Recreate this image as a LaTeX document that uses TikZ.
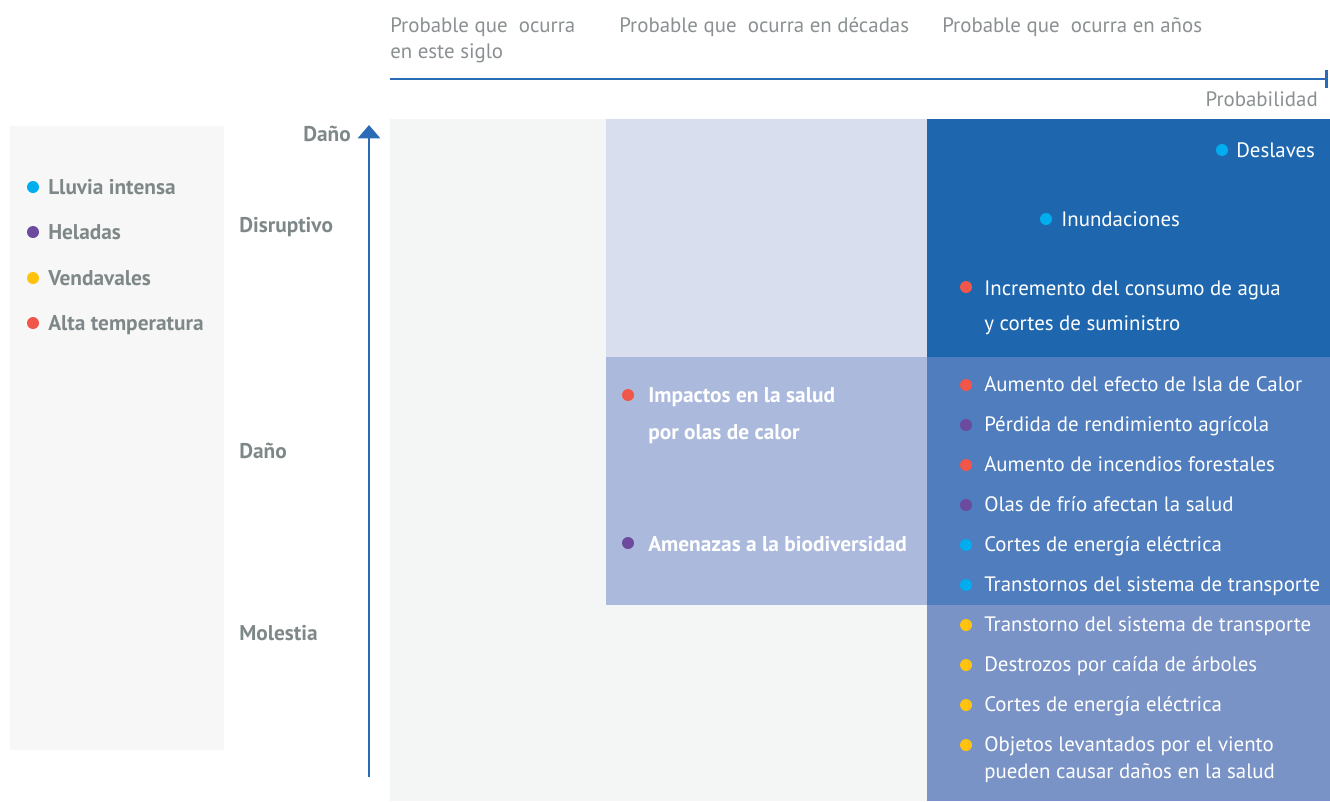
\documentclass[tikz,border=0pt]{standalone}
\usepackage{fontspec}
\setmainfont{PT Sans}
\usetikzlibrary{arrows.meta}
\definecolor{axisblue}{HTML}{2A6BB5}
\definecolor{txtgray}{HTML}{8A9091}
\definecolor{lblgray}{HTML}{7F8888}
\definecolor{legbg}{HTML}{F7F7F7}
\definecolor{gridbg}{HTML}{F4F5F5}
\definecolor{lav}{HTML}{D9DEEF}
\definecolor{lavmid}{HTML}{ABBADC}
\definecolor{darkb}{HTML}{1E67AF}
\definecolor{midb}{HTML}{4F7DBD}
\definecolor{lightb}{HTML}{7A93C6}
\definecolor{cyanc}{HTML}{00AEEF}
\definecolor{purplec}{HTML}{6C4A9E}
\definecolor{yellowc}{HTML}{FFC20E}
\definecolor{redc}{HTML}{F0564A}
\tikzset{
  txtbase/.style={anchor=mid west, inner sep=0pt, yshift=-3pt},
  head/.style={txtbase, text=txtgray, font=\fontsize{15.65}{20}\selectfont},
  lvl/.style={txtbase, text=lblgray, font=\fontsize{16}{20}\selectfont\bfseries},
  item/.style={txtbase, text=white, font=\fontsize{15.65}{20}\selectfont},
  bitem/.style={txtbase, text=white, font=\fontsize{16}{20}\selectfont\bfseries},
  dot/.style={circle, inner sep=0pt, minimum size=9pt, fill=#1},
}
\begin{document}
\begin{tikzpicture}[x=0.75pt,y=-0.75pt]
\useasboundingbox (0,0) rectangle (1330,801);
% backgrounds
\fill[legbg] (10,126) rectangle (224,750);
\fill[gridbg] (390,119) rectangle (1330,801);
\fill[lav] (606,119) rectangle (927,357);
\fill[lavmid] (606,357) rectangle (927,605);
\fill[darkb] (927,119) rectangle (1330,357);
\fill[midb] (927,357) rectangle (1330,605);
\fill[lightb] (927,605) rectangle (1330,801);
% axes
\coordinate (hx0) at (390,79);
\coordinate (hx1) at (1328,79);
\draw[axisblue, line width=2.2pt, -{Bar[width=13.5pt]}] (hx0) -- (hx1);
\coordinate (vy0) at (369,777);
\coordinate (vy1) at (369,125);
\draw[axisblue, line width=2.2pt, -{Triangle[width=16.5pt,length=10pt]}] (vy0) -- (vy1);
% top headings
\node[head] (h1) at (390,25) {Probable que\ \ ocurra};
\node[head] (h1b) at (390,51) {en este siglo};
\node[head] (h2) at (619,25) {Probable que\ \ ocurra en décadas};
\node[head] (h3) at (942,25) {Probable que\ \ ocurra en años};
\node[head, anchor=mid east] (prob) at (1318,99) {Probabilidad};
% level labels
\node[lvl, anchor=mid east] (dtop) at (351,134) {Daño};
\node[lvl] (disr) at (239,225) {Disruptivo};
\node[lvl] (dano) at (239,451) {Daño};
\node[lvl] (mol) at (239,633) {Molestia};
% legend
\node[dot=cyanc] (l1d) at (33,187) {};
\node[lvl] (l1) at (48,187) {Lluvia intensa};
\node[dot=purplec] (l2d) at (33,232) {};
\node[lvl] (l2) at (48,232) {Heladas};
\node[dot=yellowc] (l3d) at (33,278) {};
\node[lvl] (l3) at (48,278) {Vendavales};
\node[dot=redc] (l4d) at (33,323) {};
\node[lvl] (l4) at (48,323) {Alta temperatura};
% top-right block
\node[dot=cyanc] (d1) at (1222,150) {};
\node[item] (t1) at (1236,150) {Deslaves};
\node[dot=cyanc] (d2) at (1046,219) {};
\node[item] (t2) at (1061,219) {Inundaciones};
\node[dot=redc] (d3) at (966,287) {};
\node[item] (t3) at (984,288) {Incremento del consumo de agua};
\node[item] (t3b) at (984,323) {y cortes de suministro};
% middle block
\node[dot=redc] (m1d) at (628,395) {};
\node[bitem] (m1) at (648,395) {Impactos en la salud};
\node[bitem] (m1b) at (648,432) {por olas de calor};
\node[dot=purplec] (m2d) at (628,543) {};
\node[bitem] (m2) at (648,544) {Amenazas a la biodiversidad};
% right column
\node[dot=redc] (r1d) at (966,385) {};
\node[item] (r1) at (984,384) {Aumento del efecto de Isla de Calor};
\node[dot=purplec] (r2d) at (966,425) {};
\node[item] (r2) at (984,424) {Pérdida de rendimiento agrícola};
\node[dot=redc] (r3d) at (966,465) {};
\node[item] (r3) at (984,464) {Aumento de incendios forestales};
\node[dot=purplec] (r4d) at (966,505) {};
\node[item] (r4) at (984,504) {Olas de frío afectan la salud};
\node[dot=cyanc] (r5d) at (966,545) {};
\node[item] (r5) at (984,544) {Cortes de energía eléctrica};
\node[dot=cyanc] (r6d) at (966,585) {};
\node[item] (r6) at (984,584) {Transtornos del sistema de transporte};
\node[dot=yellowc] (r7d) at (966,625) {};
\node[item] (r7) at (984,624) {Transtorno del sistema de transporte};
\node[dot=yellowc] (r8d) at (966,665) {};
\node[item] (r8) at (984,664) {Destrozos por caída de árboles};
\node[dot=yellowc] (r9d) at (966,705) {};
\node[item] (r9) at (984,704) {Cortes de energía eléctrica};
\node[dot=yellowc] (r10d) at (966,745) {};
\node[item] (r10) at (984,744) {Objetos levantados por el viento};
\node[item] (r10b) at (984,771) {pueden causar daños en la salud};
\end{tikzpicture}
\end{document}
